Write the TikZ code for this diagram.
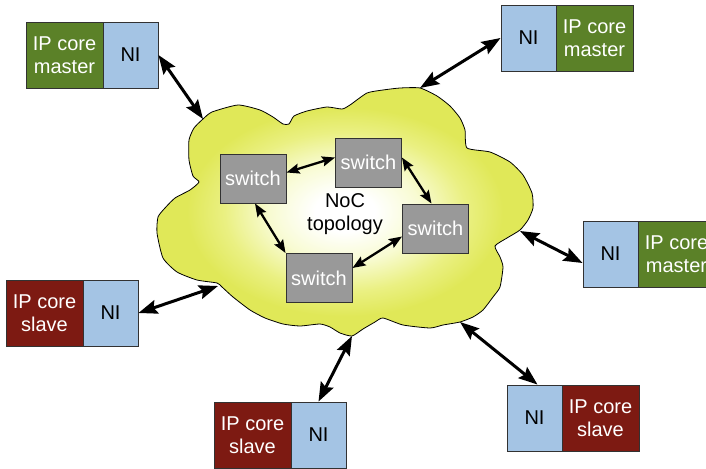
\documentclass[tikz,border=0pt]{standalone}
\usepackage{fontspec}
\setmainfont{Liberation Sans}
\usetikzlibrary{arrows.meta,calc}

\definecolor{coregreen}{RGB}{91,129,40}
\definecolor{corered}{RGB}{125,26,18}
\definecolor{niblue}{RGB}{164,196,228}
\definecolor{switchgray}{RGB}{153,153,153}
\definecolor{boxedge}{RGB}{50,50,50}
\definecolor{cloudyellow}{RGB}{224,232,88}
\definecolor{cloudmid}{RGB}{234,240,130}
\definecolor{cloudlight}{RGB}{248,251,210}

\pgfdeclareradialshading{cloudglow}{\pgfpoint{0bp}{0bp}}{%
  color(0bp)=(white); color(4bp)=(white); color(10bp)=(cloudlight);
  color(16bp)=(cloudmid); color(21bp)=(cloudyellow); color(50bp)=(cloudyellow)}

\tikzset{
  blockbase/.style={draw=boxedge, line width=0.9pt, inner sep=0pt,
    minimum height=66pt, align=center, font=\fontsize{20}{23.5}\selectfont},
  coremaster/.style={blockbase, fill=coregreen, text=white, minimum width=77pt},
  coreslave/.style={blockbase, fill=corered, text=white, minimum width=77pt},
  netif/.style={blockbase, fill=niblue, text=black, minimum width=55pt},
  switchbox/.style={draw=boxedge, line width=0.9pt, fill=switchgray, text=white,
    inner sep=0pt, minimum width=66pt, minimum height=49pt,
    font=\fontsize{20}{23}\selectfont},
  link/.style={line width=3pt,
    {Stealth[length=19pt,width=14pt,inset=3pt]}-{Stealth[length=19pt,width=14pt,inset=3pt]}},
  hop/.style={line width=2.3pt,
    {Stealth[length=13pt,width=10pt,inset=2pt]}-{Stealth[length=13pt,width=10pt,inset=2pt]}},
}

\begin{document}
\begin{tikzpicture}[x=1pt,y=-1pt]
\useasboundingbox (0,0) rectangle (706,468);

% the network cloud
\shade[shading=cloudglow, draw=black, line width=0.8pt]
  plot[smooth cycle, tension=0.35] coordinates {
  (203,119) (212,112) (238,105) (260,110) (273,117) (283,124) (289,124)
  (294,116) (307,111) (327,107) (342,109) (350,105) (367,93) (383,90)
  (400,88) (420,88) (437,96) (450,106) (460,118) (465,130) (467,148)
  (490,152) (510,162) (523,175) (532,193) (533,208) (528,220) (520,230)
  (507,238) (495,246) (500,257) (503,267) (500,287) (493,297) (483,310)
  (473,317) (460,322) (443,325) (430,328) (403,325) (383,318) (375,322)
  (363,329) (352,336) (340,333) (330,327) (320,324) (300,326) (283,324)
  (265,318) (250,310) (233,297) (222,287) (217,283) (197,280) (177,272)
  (163,258) (157,233) (158,217) (165,208) (175,198) (190,190) (199,182)
  (193,176) (189,160) (189,140) (194,128)};

% points where the links meet the cloud
\coordinate (c1) at (203,119);
\coordinate (c2) at (420,88);
\coordinate (c3) at (520,231);
\coordinate (c4) at (218,286);
\coordinate (c5) at (352,336);
\coordinate (c6) at (460,322);

% switches of the topology
\node[switchbox] (s1) at (253,178.5) {switch};
\node[switchbox] (s2) at (368.5,162.5) {switch};
\node[switchbox] (s3) at (435.5,228.5) {switch};
\node[switchbox] (s4) at (319,278) {switch};
\node[align=center, font=\fontsize{20}{23}\selectfont] (topo) at (345,214) {NoC\\topology};

\draw[hop] ($(s1.east)+(0,-6)$) -- ($(s2.west)+(0,-5)$);
\draw[hop] ($(s2.east)+(0,-5)$) -- ($(s3.north)+(-4,0)$);
\draw[hop] ($(s1.south)+(2,0)$) -- (s4.north west);
\draw[hop] ($(s4.east)+(0,-10)$) -- ($(s3.west)+(0,8)$);

% IP cores with their network interfaces
\node[coremaster] (m1) at (64.5,55) {IP core\\master};
\node[netif] (n1) at (130.5,55) {NI};

\node[netif] (n2) at (528.5,38) {NI};
\node[coremaster] (m2) at (594.5,38) {IP core\\master};

\node[netif] (n3) at (610.5,254) {NI};
\node[coremaster] (m3) at (676.5,254) {IP core\\master};

\node[coreslave] (sl1) at (44.5,313) {IP core\\slave};
\node[netif] (n4) at (110.5,313) {NI};

\node[coreslave] (sl2) at (252.5,435) {IP core\\slave};
\node[netif] (n5) at (318.5,435) {NI};

\node[netif] (n6) at (534.5,418) {NI};
\node[coreslave] (sl3) at (600.5,418) {IP core\\slave};

% links between interfaces and the network
\draw[link] (n1.east) -- (c1);
\draw[link] (n2.west) -- (c2);
\draw[link] ($(n3.west)+(0,9)$) -- (c3);
\draw[link] (n4.east) -- (c4);
\draw[link] (n5.north) -- (c5);
\draw[link] ($(n6.north)+(3,0)$) -- (c6);
\end{tikzpicture}
\end{document}
